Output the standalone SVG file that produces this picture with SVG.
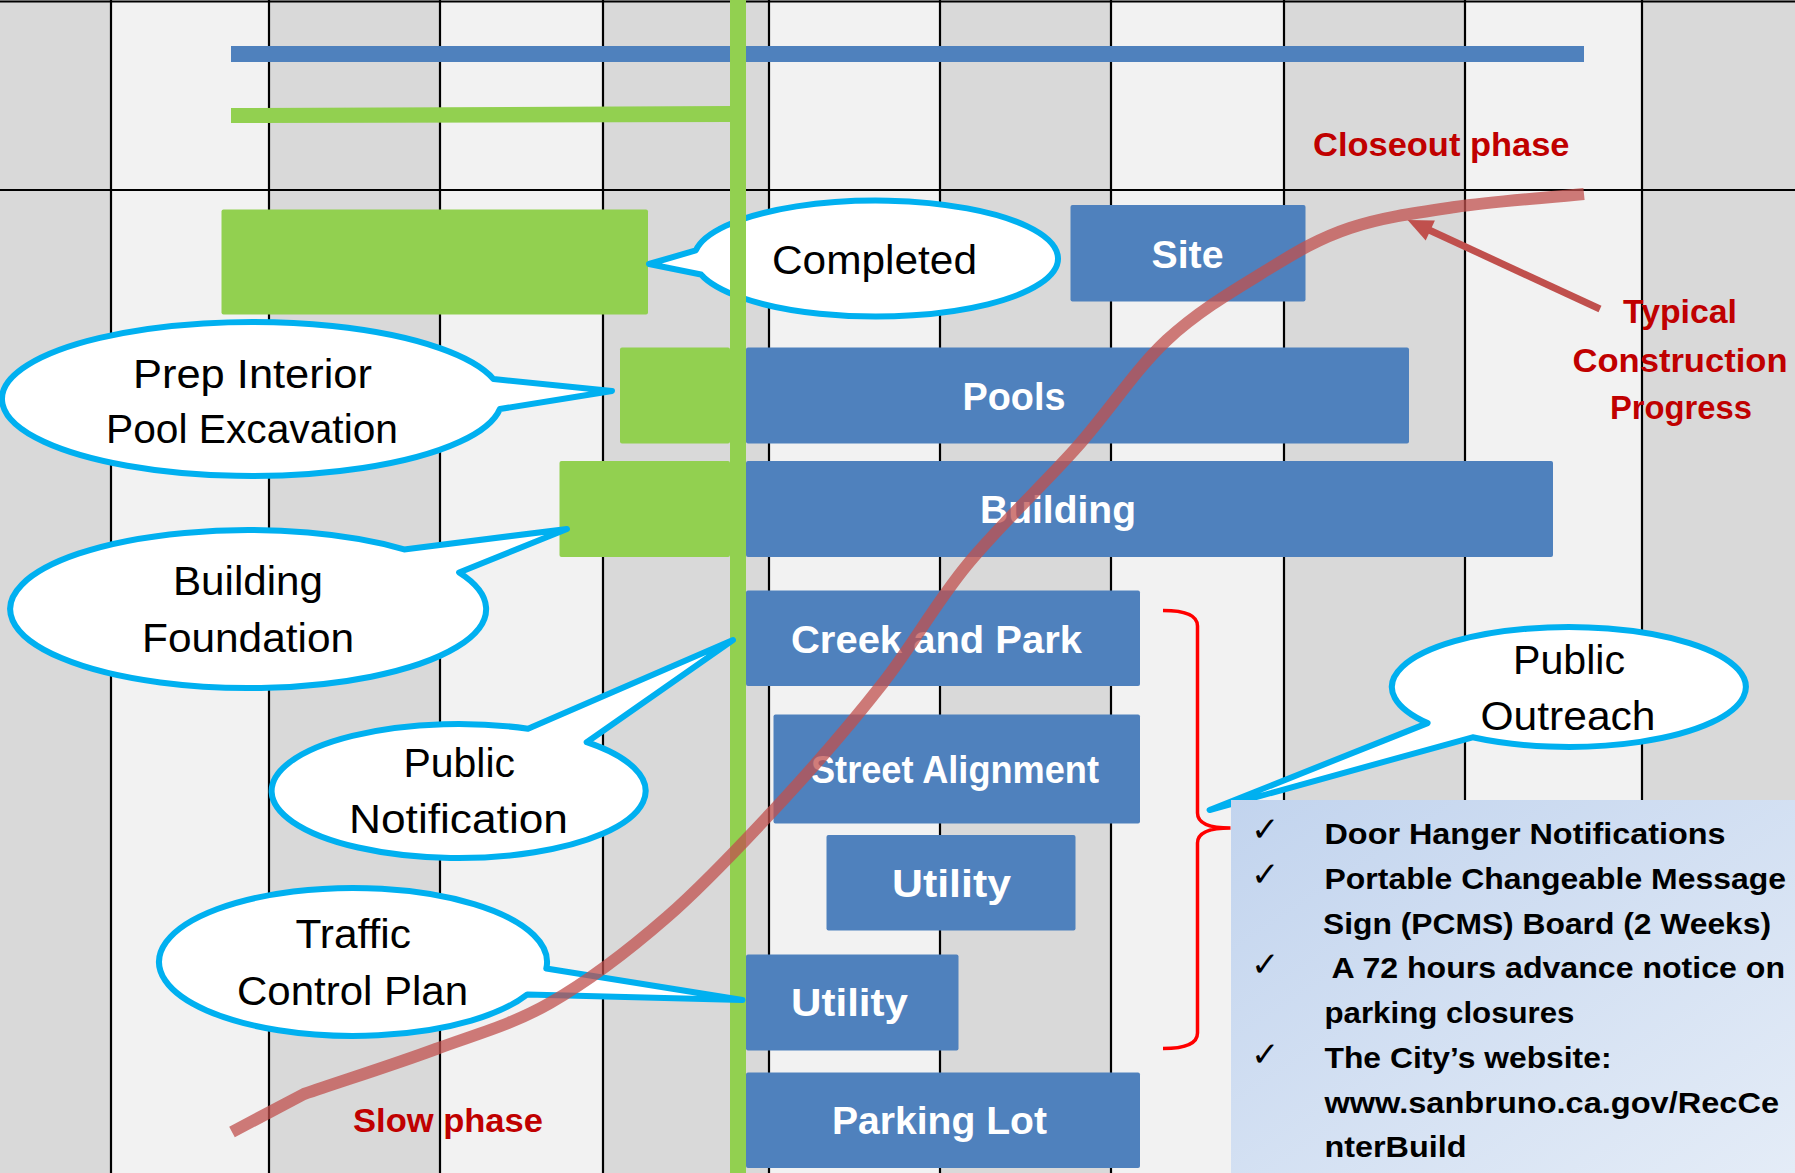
<svg xmlns="http://www.w3.org/2000/svg" width="1795" height="1173" viewBox="0 0 1795 1173">
<defs>
<style>
.dk{fill:#d9d9d9}.lt{fill:#f2f2f2}
.grid{stroke:#000;stroke-width:2.2}
.blue{fill:#4f81bd}
.green{fill:#92d050}
.call{fill:#fff;stroke:#00b0f0;stroke-width:6;stroke-linejoin:round}
.ct{font-family:"Liberation Sans",Arial,sans-serif;font-size:40px;fill:#000}
.bt{font-family:"Liberation Sans",Arial,sans-serif;font-weight:bold;font-size:39px;fill:#fff}
.rt{font-family:"Liberation Sans",Arial,sans-serif;font-weight:bold;font-size:34px;fill:#c00000}
.lt2{font-family:"Liberation Sans",Arial,sans-serif;font-weight:bold;font-size:30px;fill:#000}
.ck{font-family:"DejaVu Sans",sans-serif;font-size:34px;fill:#000}
</style>
<linearGradient id="boxg" x1="0" y1="0" x2="1" y2="1">
<stop offset="0" stop-color="#c2d4ee"/>
<stop offset="1" stop-color="#e4ecf7"/>
</linearGradient>
</defs>

<g id="background">
<rect class="dk" x="0" y="0" width="111" height="1173"/>
<rect class="lt" x="111" y="0" width="158" height="1173"/>
<rect class="dk" x="269" y="0" width="171" height="1173"/>
<rect class="lt" x="440" y="0" width="163" height="1173"/>
<rect class="dk" x="603" y="0" width="166" height="1173"/>
<rect class="lt" x="769" y="0" width="171" height="1173"/>
<rect class="dk" x="940" y="0" width="171" height="1173"/>
<rect class="lt" x="1111" y="0" width="173" height="1173"/>
<rect class="dk" x="1284" y="0" width="181" height="1173"/>
<rect class="lt" x="1465" y="0" width="177" height="1173"/>
<rect class="dk" x="1642" y="0" width="153" height="1173"/>
</g>
<g id="grid" class="grid">
<line x1="111" y1="0" x2="111" y2="1173"/>
<line x1="269" y1="0" x2="269" y2="1173"/>
<line x1="440" y1="0" x2="440" y2="1173"/>
<line x1="603" y1="0" x2="603" y2="1173"/>
<line x1="769" y1="0" x2="769" y2="1173"/>
<line x1="940" y1="0" x2="940" y2="1173"/>
<line x1="1111" y1="0" x2="1111" y2="1173"/>
<line x1="1284" y1="0" x2="1284" y2="1173"/>
<line x1="1465" y1="0" x2="1465" y2="1173"/>
<line x1="1642" y1="0" x2="1642" y2="1173"/>
<line x1="0" y1="1.5" x2="1795" y2="1.5"/>
<line x1="0" y1="190" x2="1795" y2="190"/>
</g>

<g id="timeline-bars">
<rect class="blue" x="231" y="46" width="1353" height="16"/>
<polygon class="green" points="231,108 730,106 730,122 231,123"/>
</g>

<g id="completed-bar">
<rect class="green" x="221.5" y="209.5" width="426.5" height="105" rx="2"/>
</g>

<g id="callout-completed">
<path class="call" d="M695.8,250.4 L649,264 L701,274.5 A182,58 0 1 0 695.8,250.4 Z"/>
<text class="ct" x="772" y="273.5" textLength="205" lengthAdjust="spacingAndGlyphs">Completed</text>
</g>

<g id="today-line">
<rect class="green" x="730" y="0" width="16" height="1173"/>
</g>

<g id="site">
<rect class="blue" x="1070.5" y="205" width="235" height="96.5" rx="2"/>
<text class="bt" x="1151.5" y="268" textLength="72" lengthAdjust="spacingAndGlyphs" font-size="40">Site</text>
</g>
<g id="pools">
<rect class="green" x="620" y="347.5" width="110" height="96" rx="2"/>
<rect class="blue" x="746" y="347.5" width="663" height="96" rx="2"/>
<text class="bt" x="962.5" y="410" textLength="103" lengthAdjust="spacingAndGlyphs">Pools</text>
</g>
<g id="building">
<rect class="green" x="559.5" y="461" width="170.5" height="96" rx="2"/>
<rect class="blue" x="746" y="461" width="807" height="96" rx="2"/>
<text class="bt" x="980" y="522.5" textLength="156" lengthAdjust="spacingAndGlyphs">Building</text>
</g>
<g id="creek-and-park">
<rect class="blue" x="746" y="590.5" width="394" height="95.5" rx="2"/>
<text class="bt" x="791" y="653" textLength="291" lengthAdjust="spacingAndGlyphs">Creek and Park</text>
</g>
<g id="street-alignment">
<rect class="blue" x="773.5" y="714.5" width="366.5" height="109" rx="2"/>
<text class="bt" x="811" y="782.5" textLength="288" lengthAdjust="spacingAndGlyphs" font-size="36">Street Alignment</text>
</g>
<g id="utility-1">
<rect class="blue" x="826.5" y="835" width="249" height="95.5" rx="2"/>
<text class="bt" x="892" y="896.5" textLength="119" lengthAdjust="spacingAndGlyphs" font-size="41">Utility</text>
</g>
<g id="utility-2">
<rect class="blue" x="746" y="954.5" width="212.5" height="96" rx="2"/>
<text class="bt" x="791" y="1016" textLength="117" lengthAdjust="spacingAndGlyphs" font-size="40">Utility</text>
</g>
<g id="parking-lot">
<rect class="blue" x="746" y="1072.5" width="394" height="95.5" rx="2"/>
<text class="bt" x="832" y="1134" textLength="215" lengthAdjust="spacingAndGlyphs">Parking Lot</text>
</g>

<g id="callout-pool">
<path class="call" d="M493.5,379.1 L612,391 L499.9,409 A250,77 0 1 1 493.5,379.1 Z"/>
<text class="ct" x="133" y="388" textLength="239" lengthAdjust="spacingAndGlyphs">Prep Interior</text>
<text class="ct" x="106" y="443" textLength="292" lengthAdjust="spacingAndGlyphs">Pool Excavation</text>
</g>
<g id="callout-foundation">
<path class="call" d="M404.1,549.4 L567,529 L459.1,572.5 A238,79 0 1 1 404.1,549.4 Z"/>
<text class="ct" x="173" y="595" textLength="150" lengthAdjust="spacingAndGlyphs">Building</text>
<text class="ct" x="142" y="652" textLength="212" lengthAdjust="spacingAndGlyphs">Foundation</text>
</g>
<g id="callout-notification">
<path class="call" d="M528,728.8 L733,640 L586.7,742.2 A187,67 0 1 1 528,728.8 Z"/>
<text class="ct" x="403.5" y="777" textLength="111.5" lengthAdjust="spacingAndGlyphs">Public</text>
<text class="ct" x="349" y="832.5" textLength="219" lengthAdjust="spacingAndGlyphs">Notification</text>
</g>
<g id="callout-traffic">
<path class="call" d="M546.3,968.5 L742.5,1000 L527.4,994.4 A194,74 0 1 1 546.3,968.5 Z"/>
<text class="ct" x="295.5" y="948" textLength="115.5" lengthAdjust="spacingAndGlyphs">Traffic</text>
<text class="ct" x="237" y="1004.5" textLength="231" lengthAdjust="spacingAndGlyphs">Control Plan</text>
</g>

<g id="progress-curve">
<path d="M232,1132 L304,1094 C348,1079 395,1064.2 436,1049 C477,1033.8 511.5,1025 550,1003 C588.5,981 628.2,950.8 667,917 C705.8,883.2 747,839 783,800 C819,761 852.3,722.2 883,683 C913.7,643.8 934.7,604.3 967,565 C999.3,525.7 1043.7,484.5 1077,447 C1110.3,409.5 1135.3,369.5 1167,340 C1198.7,310.5 1236.5,288.7 1267,270 C1297.5,251.3 1318.7,238.5 1350,228 C1381.3,217.5 1416,212.7 1455,207 C1494,201.3 1541,198.3 1584,194" fill="none" stroke="#c0504d" stroke-opacity="0.75" stroke-width="12" stroke-linejoin="round"/>
</g>

<g id="bracket">
<path d="M1163,610.5 Q1197.5,610.5 1197.5,626 L1197.5,813 Q1197.5,828 1230.5,828 Q1197.5,828 1197.5,843 L1197.5,1033 Q1197.5,1048.5 1163,1048.5" fill="none" stroke="#ff0000" stroke-width="3.5"/>
</g>

<g id="callout-outreach">
<path class="call" d="M1427.6,723.1 L1209.6,810 L1472.6,737.3 A177,60 0 1 0 1427.6,723.1 Z"/>
<text class="ct" x="1513" y="673.5" textLength="112" lengthAdjust="spacingAndGlyphs">Public</text>
<text class="ct" x="1480.5" y="729.5" textLength="175" lengthAdjust="spacingAndGlyphs">Outreach</text>
</g>

<g id="outreach-list">
<rect x="1231" y="800" width="564" height="373" fill="url(#boxg)"/>
<text class="ck" x="1251" y="841">✓</text>
<text class="ck" x="1251" y="886">✓</text>
<text class="ck" x="1251" y="976">✓</text>
<text class="ck" x="1251" y="1066">✓</text>
<text class="lt2" x="1324.5" y="843.5" textLength="401" lengthAdjust="spacingAndGlyphs">Door Hanger Notifications</text>
<text class="lt2" x="1324.5" y="888.5" textLength="461.5" lengthAdjust="spacingAndGlyphs">Portable Changeable Message</text>
<text class="lt2" x="1323" y="933.5" textLength="448" lengthAdjust="spacingAndGlyphs">Sign (PCMS) Board (2 Weeks)</text>
<text class="lt2" x="1331.5" y="978" textLength="453.5" lengthAdjust="spacingAndGlyphs">A 72 hours advance notice on</text>
<text class="lt2" x="1324.5" y="1022.5" textLength="250" lengthAdjust="spacingAndGlyphs">parking closures</text>
<text class="lt2" x="1324.5" y="1068" textLength="287" lengthAdjust="spacingAndGlyphs">The City’s website:</text>
<text class="lt2" x="1324.5" y="1113" textLength="454.5" lengthAdjust="spacingAndGlyphs">www.sanbruno.ca.gov/RecCe</text>
<text class="lt2" x="1324.5" y="1157" textLength="142" lengthAdjust="spacingAndGlyphs">nterBuild</text>
</g>

<g id="progress-arrow">
<line x1="1600" y1="309" x2="1428" y2="229.5" stroke="#c0504d" stroke-width="7"/>
<polygon points="1407.6,220 1434.9,220.5 1425.7,240.5" fill="#c0504d"/>
</g>

<g id="phase-labels">
<text class="rt" x="1313" y="156" textLength="256.5" lengthAdjust="spacingAndGlyphs">Closeout phase</text>
<text class="rt" x="1623" y="322.5" textLength="114" lengthAdjust="spacingAndGlyphs">Typical</text>
<text class="rt" x="1572.5" y="372" textLength="215" lengthAdjust="spacingAndGlyphs">Construction</text>
<text class="rt" x="1610" y="419" textLength="142" lengthAdjust="spacingAndGlyphs">Progress</text>
<text class="rt" x="353" y="1132" textLength="190" lengthAdjust="spacingAndGlyphs">Slow phase</text>
</g>
</svg>
